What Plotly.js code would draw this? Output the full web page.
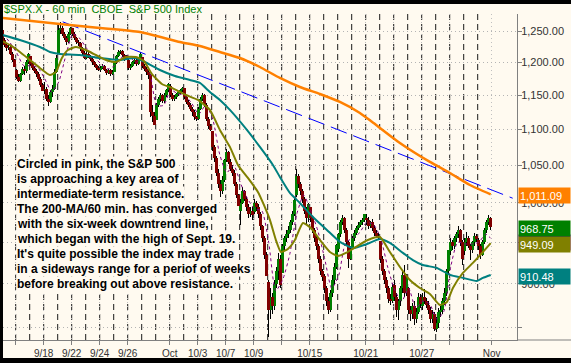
<!DOCTYPE html>
<html><head><meta charset="utf-8">
<script src="https://cdn.plot.ly/plotly-3.0.1.min.js"></script>
<style>
html,body{margin:0;padding:0;background:#000;width:571px;height:363px;overflow:hidden;}
#chart{position:absolute;left:3px;top:4px;width:568px;height:354px;}
</style></head><body><div id="chart"></div>
<script>
// 60-min bars, 7 per trading day, Sep 15 - Oct 31 2008
const OPEN=[
1250.9,1236,1228,1222,1225,1214,1204,
1188.3,1178,1172,1182,1190,1186,1200,
1210.3,1198,1192,1186,1182,1175,1165,
1157.1,1160,1145,1140,1155,1160,1185,
1213.1,1252,1255,1245,1238,1232,1245,
1255.4,1245,1238,1232,1230,1222,1215,
1207.6,1214,1210,1205,1200,1196,1192,
1188.8,1192,1195,1188,1184,1188,1182,
1185.9,1200,1210,1216,1218,1212,1206,
1204.5,1192,1195,1200,1204,1198,1206,
1209.1,1195,1190,1185,1180,1125,1120,
1113.8,1135,1145,1150,1142,1150,1158,
1164.2,1150,1145,1148,1152,1155,1158,
1160.6,1148,1140,1135,1130,1125,1118,
1115.2,1130,1145,1150,1135,1115,1105,
1097.6,1075,1060,1040,1025,1015,1030,
1057.6,1068,1055,1045,1040,1025,1010,
988.9,1000,1015,1005,995,985,990,
988.4,1000,995,985,970,955,935,
902.3,870,885,875,900,915,930,
912.8,945,955,960,965,975,985,
1010,1035,1025,1015,1005,990,980,
994.6,980,965,955,945,930,915,
909.5,895,880,870,890,905,920,
942.3,960,975,980,965,950,930,
943.5,955,962,968,972,975,978,
980.4,978,970,975,968,962,958,
951.7,930,915,905,895,882,880,
899.1,885,870,880,895,910,890,
895.2,870,865,875,860,868,885,
874.3,885,880,876,870,860,865,
848.9,855,868,870,880,890,915,
939.5,950,945,955,960,965,950,
939.4,950,955,945,940,950,958,
953.1,945,935,950,965,975,980];
const HIGH=[
1250.9,1238,1231,1228,1227,1216,1206,
1190,1182,1184,1193,1195,1204,1214.8,
1210.3,1200,1195,1190,1185,1177,1168,
1170,1162,1150,1158,1165,1190,1211.1,
1262,1265.1,1258,1248,1242,1248,1257,
1255.4,1248,1241,1236,1233,1225,1218,
1219.2,1216,1212,1208,1203,1198,1194,
1194,1197.4,1196,1190,1190,1190,1188,
1202,1212,1219,1220,1219,1214,1212,
1205,1198,1203,1207,1206,1209,1215.8,
1209.1,1198,1193,1188,1182,1135,1125,
1138,1148,1153,1152,1153,1160,1168,
1167,1153,1150,1153,1157,1160,1163,
1160.6,1150,1143,1138,1133,1128,1120,
1133,1148,1153.8,1152,1138,1118,1108,
1097.6,1078,1063,1045,1030,1035,1058,
1072.9,1070,1058,1050,1043,1028,1012,
1005,1021.1,1017,1008,998,995,994,
1005.3,1003,998,988,972,958,938,
905,895,890,905,920,936.4,934,
948,958,965,970,978,990,1006.9,
1044.3,1038,1028,1018,1008,995,1000,
994.6,983,968,960,948,933,918,
912,898,885,893,910,925,947.7,
962,978,984.6,982,968,952,945,
958,965,970,975,978,981,985.4,
985.4,982,977,979,972,965,962,
951.7,933,918,908,898,888,900,
905,890,882,898,915,922.8,912,
896.3,875,878,880,872,890,888,
890,893.8,884,880,874,870,868,
862,872,875,884,895,918,940.5,
955,953,958,963,970,967,953,
955,963.2,958,948,952,962,960,
955,948,953,968,978,984.4,982];
const LOW=[
1234,1225,1218,1219,1212,1200,1192.7,
1175,1169.3,1170,1180,1180,1184,1198,
1195,1188,1184,1178,1172,1162,1155.9,
1152,1142,1133.5,1138,1148,1158,1183,
1213.1,1245,1242,1235,1228,1230,1243,
1242,1235,1229,1226,1218,1212,1205.6,
1205,1207,1202,1196,1193,1189,1187.1,
1185,1190,1186,1181,1182,1179.8,1180,
1185.9,1198,1208,1213,1209,1203,1204,
1187.5,1189,1193,1197,1195,1196,1204,
1192,1186,1180,1175,1118,1110,1106.4,
1113.8,1132,1140,1138,1139,1147,1155,
1148,1140.8,1142,1145,1149,1152,1155,
1145,1137,1132,1127,1120,1113,1111.4,
1113,1128,1142,1132,1112,1100,1098.1,
1070,1055,1035,1020,1008,1012,1028,
1055,1052,1042,1035,1022,1006,996.2,
971,998,1002,990,980,982,978,
985,990,980,965,950,930,909.2,
839.8,860,865,870,895,905,895,
912.8,940,950,955,962,972,983,
1008,1020,1010,1000,985,972.1,976,
975,962,950,940,925,910,904,
890,875,865.8,868,885,900,918,
938,957,972,962,945,918.7,928,
943.5,952,959,965,969,972,976,
972,966,968,964,958,955,952.5,
925,910,900,890,878,875.8,878,
880,862,858.4,875,890,885,886,
865,858,860,852.9,856,865,872,
870,877,872,865,856,855,846.8,
845.3,850,862,866,876,886,912,
935,940,942,950,955,945,922.3,
935,946,943,928.5,937,946,950,
940,930.2,933,948,962,972,965];
const CLOSE=[
1236,1228,1222,1225,1214,1204,1192.7,
1178,1172,1182,1190,1186,1200,1213.6,
1198,1192,1186,1182,1175,1165,1156.4,
1160,1145,1140,1155,1160,1185,1206.5,
1252,1255,1245,1238,1232,1245,1255.1,
1245,1238,1232,1230,1222,1215,1207.1,
1214,1210,1205,1200,1196,1192,1188.2,
1192,1195,1188,1184,1188,1182,1185.9,
1200,1210,1216,1218,1212,1206,1209.2,
1192,1195,1200,1204,1198,1206,1213.3,
1195,1190,1185,1180,1125,1120,1106.4,
1135,1145,1150,1142,1150,1158,1166.4,
1150,1145,1148,1152,1155,1158,1161.1,
1148,1140,1135,1130,1125,1118,1114.3,
1130,1145,1150,1135,1115,1105,1099.2,
1075,1060,1040,1025,1015,1030,1056.9,
1068,1055,1045,1040,1025,1010,996.2,
1000,1015,1005,995,985,990,984.9,
1000,995,985,970,955,935,909.9,
870,885,875,900,915,930,899.2,
945,955,960,965,975,985,1003.4,
1035,1025,1015,1005,990,980,998,
980,965,955,945,930,915,907.8,
895,880,870,890,905,920,946.4,
960,975,980,965,950,930,940.6,
955,962,968,972,975,978,985.4,
978,970,975,968,962,958,955.1,
930,915,905,895,882,880,896.8,
885,870,880,895,910,890,908.1,
870,865,875,860,868,885,876.8,
885,880,876,870,860,865,848.9,
855,868,870,880,890,915,940.5,
950,945,955,960,965,950,930.1,
950,955,945,940,950,958,954.1,
945,935,950,965,975,980,968.75];

// moving averages (bar index, value)
const ma200_x=[0,28.6,48.6,68.6,88.6,98.6,108.6,118.6,128.6,138.6,148.6,158.6,168.6,178.6,184.6,198.6,213.6,223.6,233.6,244];
const ma200_y=[1271.3,1261.4,1254.9,1248.4,1232.3,1225.9,1216.4,1206.9,1192.9,1176,1162.3,1151.8,1139.9,1123.8,1111,1080.8,1054.5,1039.5,1023.4,1011.09];
const ma50_x=[0,8.6,18.6,23.6,28.6,38.6,48.6,58.6,66.1,71.1,78.6,86.1,93.6,98.6,103.6,108.6,113.6,122.1,128.6,135.1,138.6,143.6,148.6,155.1,162.1,168.6,175.1,182.1,188.6,193.6,200.1,205.1,210.1,217.1,223.6,230.1,237.1,240.1,244];
const ma50_y=[1243.5,1235.5,1224.3,1216.4,1213.3,1211.6,1206.9,1203.8,1206.9,1200.7,1188.3,1179,1172.9,1168.4,1154.8,1142.9,1128.2,1099.3,1075.3,1050.4,1034.1,1012.9,999.8,981.8,965.4,950.5,943,947.9,954.1,949.2,937,928.4,922.4,918.9,910.6,907.1,903.5,907.1,910.48];
const ma20_x=[0,3.6,8.6,13.6,18.6,23.6,26.6,29.6,32.6,36.6,41.6,46.6,51.6,56.6,61.6,66.6,70.6,74.6,79.6,84.6,91.6,97.6,103.6,108.6,113.6,117.6,122.6,127.6,130.6,133.6,136.6,139.1,142.6,146.1,150.1,154.1,158.6,163.6,167.6,171.6,176.6,182.6,188.6,193.6,198.6,203.6,208.6,213.6,218.6,222.1,225.1,230.1,235.1,240.1,244];
const ma20_y=[1233.4,1227.5,1216.4,1203.8,1191.4,1180.6,1185.3,1206.9,1219.5,1224.3,1219.5,1211.6,1203.8,1200.7,1208.5,1208.5,1202.2,1182,1166.9,1160.9,1150.3,1142.9,1128.2,1099.3,1075.3,1050.4,1032.8,1014.1,997.2,978,952.8,938.1,941.8,952.8,974.2,967.8,952.8,938.1,933.3,937,944.3,952.8,956.6,938.1,920,904.6,895.3,888.4,875.8,879.2,895.3,912.9,924.9,938.1,949.09];
const ma10_x=[0,3.5,7,10.5,14,17.5,21,24.5,28,31.5,35,38.5,42,45.5,49,52.5,56,59.5,63,66.5,70,73.5,77,80.5,84,87.5,91,94.5,98,101.5,105,108.5,112,115.5,119,122.5,126,129.5,133,136.5,140,143.5,147,150.5,154,157.5,161,164.5,168,171.5,175,178.5,182,185.5,189,192.5,196,199.5,203,206.5,210,213.5,217,220.5,224,227.5,231,234.5,238,241.5,244];
const ma10_y=[1245,1232,1215,1195,1195,1192,1175,1155,1170,1210,1245,1238,1222,1210,1198,1190,1195,1208,1210,1200,1205,1185,1135,1135,1158,1152,1150,1138,1122,1135,1115,1065,1040,1050,1025,1005,992,990,950,892,905,935,985,1010,990,965,930,895,910,950,955,962,975,972,955,920,893,880,895,872,880,877,860,868,920,950,948,948,950,960,955];
// six-week downtrend line from the Sept. 19 high
const trend_x=[30,255];
const trend_y=[1265,1006];

const DAY_COUNT=35, BARS_PER_DAY=7;
const tickDays=[1,3,5,7,9,12,14,16,18,20,22,26,28,30,32,35];
const tickLabels=['','9/18','9/22','9/24','9/26','Oct','10/3','10/7','10/9','','10/15','10/21','','10/27','','Nov'];
const priceTicks=[850,900,950,1000,1050,1100,1150,1200,1250];
const priceTickLabels=['','900.00','950.00','1,000.00','1,050.00','1,100.00','1,150.00','1,200.00','1,250.00'];
const noteLines=['Circled in pink, the S&P 500','is approaching a key area of','intermediate-term resistance.','The 200-MA/60 min. has converged','with the six-week downtrend line,','which began with the high of Sept. 19.',"It's quite possible the index may trade",'in a sideways range for a periof of weeks','before breaking out above resistance.'];
const lastLabelValues=[952.2,910.48,949.09,968.75,1011.09];
const lastLabelTexts=['','910.48','949.09','968.75','1,011.09'];
const lastLabelColors=['#800080','#008080','#808000','#008000','#ff8000'];

const CREAM='#fffaf0';
const idx=CLOSE.map((_,i)=>i);
const wickLen=idx.map(i=>HIGH[i]-LOW[i]);
const up={x:[],y:[],base:[]},dn={x:[],y:[],base:[]};
idx.forEach(i=>{
  const o=OPEN[i],c=CLOSE[i];
  const t=c>=o?up:dn;
  t.x.push(i);t.base.push(Math.min(o,c));t.y.push(Math.max(Math.abs(c-o),0.8));
});

const traces=[
 {type:'bar',x:idx,y:wickLen,base:LOW,width:0.5,marker:{color:'#000',line:{width:0}}},
 {type:'bar',x:up.x,y:up.y,base:up.base,width:1.5,marker:{color:'#008000',line:{width:0}}},
 {type:'bar',x:dn.x,y:dn.y,base:dn.base,width:1.5,marker:{color:'#800000',line:{width:0}}},
 {type:'scatter',mode:'lines',x:ma10_x,y:ma10_y,line:{color:'#800080',width:1,dash:'dot',shape:'spline',smoothing:0.6}},
 {type:'scatter',mode:'lines',x:ma50_x,y:ma50_y,line:{color:'#008080',width:2,shape:'spline',smoothing:0.5}},
 {type:'scatter',mode:'lines',x:ma20_x,y:ma20_y,line:{color:'#808000',width:2,shape:'spline',smoothing:0.5}},
 {type:'scatter',mode:'lines',x:trend_x,y:trend_y,line:{color:'#0000ff',width:1,dash:'17px,7px'}},
 {type:'scatter',mode:'lines',x:ma200_x,y:ma200_y,line:{color:'#ff8000',width:2.5,shape:'spline',smoothing:0.5}}
];

const shapes=[];
for(let d=1;d<DAY_COUNT;d++){
  shapes.push({type:'line',xref:'x',yref:'paper',x0:d*BARS_PER_DAY-0.5,x1:d*BARS_PER_DAY-0.5,y0:0,y1:1,layer:'below',line:{color:'#1a1a1a',width:1,dash:'6px,4px'}});
}
shapes.push({type:'circle',xref:'x',yref:'y',x0:237.25,x1:245.75,y0:Math.log10(998.5),y1:Math.log10(1031.4),layer:'below',fillcolor:'#ffff00',line:{color:'#ff00ff',width:2}});
shapes.push({type:'line',xref:'paper',yref:'paper',x0:1,x1:1.12,y0:0,y1:0,line:{color:'#808080',width:1}});

const PLOT_W=514,PLOT_H=326,PLOT_TOP=14;
const annotations=[];
noteLines.forEach((t,k)=>{
  const py=164.3+15*k;
  annotations.push({xref:'paper',yref:'paper',x:13/PLOT_W,y:1-(py-PLOT_TOP)/PLOT_H,xanchor:'left',yanchor:'middle',showarrow:false,
    text:'<b>'+t+'</b>',bgcolor:CREAM,borderpad:0,font:{family:'Liberation Sans, Arial, sans-serif',size:12,color:'#000'}});
});
lastLabelValues.forEach((v,k)=>{
  annotations.push({xref:'paper',yref:'y',x:1,xshift:1,y:Math.log10(v),yshift:-1.5,xanchor:'left',yanchor:'middle',showarrow:false,
    text:lastLabelTexts[k],bgcolor:lastLabelColors[k],width:49,height:13,align:'left',borderpad:1,
    font:{family:'Liberation Sans, Arial, sans-serif',size:11,color:'#fff'}});
});

const layout={
  width:568,height:354,
  margin:{l:0,r:54,t:10,b:18,pad:0},
  paper_bgcolor:CREAM,plot_bgcolor:CREAM,
  showlegend:false,barmode:'overlay',bargap:0,
  title:{text:'$SPX.X - 60 min\u00a0\u00a0CBOE\u00a0\u00a0S&amp;P 500 Index',x:1/568,xanchor:'left',xref:'container',y:1-5.5/354,yanchor:'middle',yref:'container',
    font:{family:'Liberation Sans, Arial, sans-serif',size:11,color:'#008000'}},
  xaxis:{range:[0.15,257.15],tickvals:tickDays.map(d=>d*BARS_PER_DAY-0.5),ticktext:tickLabels,ticks:'outside',ticklen:4,tickcolor:'#808080',
    showline:true,linecolor:'#808080',linewidth:1,showgrid:true,gridcolor:'#c0c0c0',griddash:'1px,3px',zeroline:false,
    tickfont:{family:'Liberation Sans, Arial, sans-serif',size:10,color:'#333'},fixedrange:true},
  yaxis:{type:'log',range:[Math.log10(836.8),Math.log10(1277.9)],side:'right',tickvals:priceTicks,ticktext:priceTickLabels,
    ticks:'outside',ticklen:4,tickcolor:'#808080',showline:true,linecolor:'#808080',linewidth:1,
    showgrid:true,gridcolor:'#b4b4b4',griddash:'1px,3px',zeroline:false,ticklabelstandoff:-3,
    tickfont:{family:'Liberation Sans, Arial, sans-serif',size:11,color:'#333'},fixedrange:true},
  shapes:shapes,annotations:annotations
};
Plotly.newPlot('chart',traces,layout,{staticPlot:true,displayModeBar:false});
</script></body></html>
